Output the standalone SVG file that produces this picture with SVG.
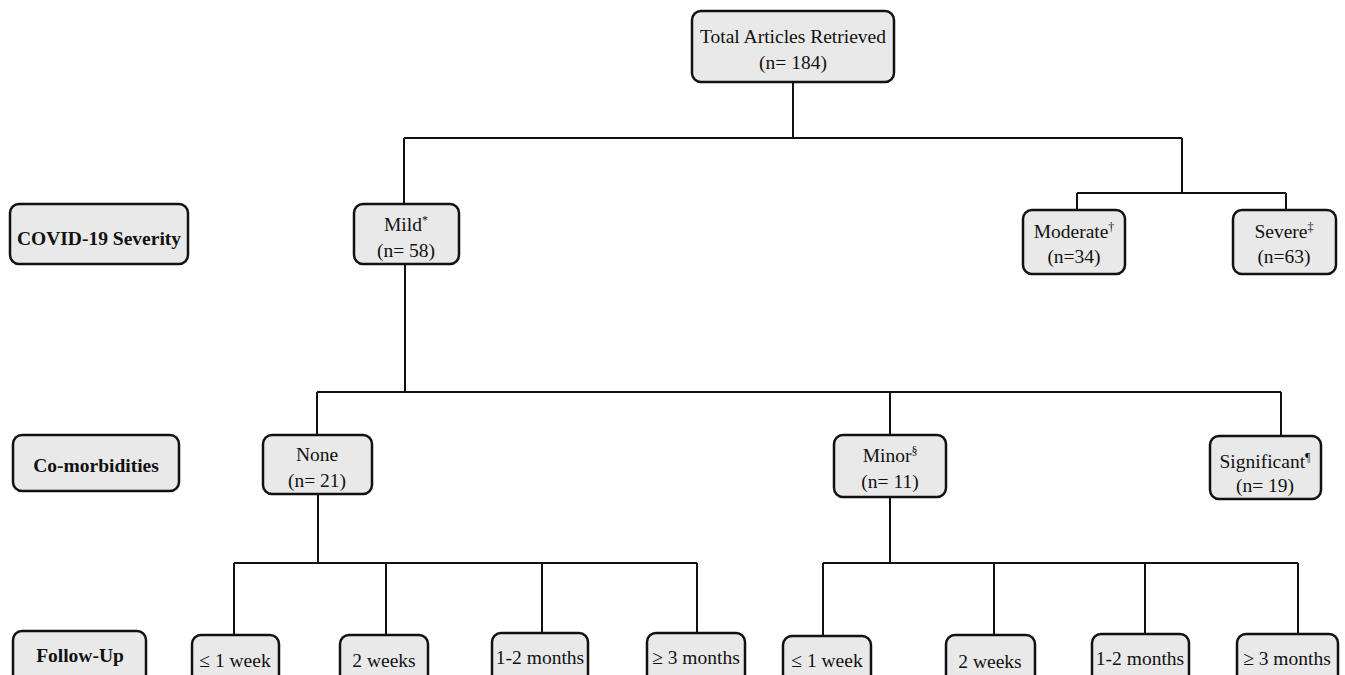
<svg xmlns="http://www.w3.org/2000/svg" width="1345" height="675" viewBox="0 0 1345 675">
<style>
.box{fill:#e9e9e9;stroke:#111;stroke-width:2.5}
.t{font-family:"Liberation Serif","Times New Roman",serif;font-size:19.5px;fill:#111;text-anchor:middle}
.b{font-weight:bold}
.sup{font-size:12px}
.c{fill:none;stroke:#111;stroke-width:2}
</style>
<rect width="1345" height="675" fill="#fff"/>
<g id="connectors">
<path class="c" d="M793 82V138M404 138H1182M404 138V204M1182 138V193M1077 193H1286M1077 193V210M1286 193V210"/>
<path class="c" d="M405 264V392M317 392H1281M317 392V435M890 392V435M1281 392V436"/>
<path class="c" d="M318 494V563M234 563H697M234 563V635M386 563V635M542 563V633M697 563V633"/>
<path class="c" d="M890 497V563M823 563H1298M823 563V636M994 563V635M1145 563V633M1298 563V633"/>
</g>
<g id="total"><rect class="box" x="692" y="11" width="202" height="71" rx="9"/><text class="t" x="793" y="43">Total Articles Retrieved</text><text class="t" x="793" y="69">(n= 184)</text></g>
<g id="lbl-severity"><rect class="box" x="10" y="204" width="178" height="60" rx="9"/><text class="t b" x="99" y="245">COVID-19 Severity</text></g>
<g id="mild"><rect class="box" x="354" y="204" width="105" height="60" rx="9"/><text class="t" x="406" y="231">Mild<tspan class="sup" dy="-7">*</tspan></text><text class="t" x="406" y="257">(n= 58)</text></g>
<g id="moderate"><rect class="box" x="1023" y="210" width="102" height="64" rx="9"/><text class="t" x="1074" y="238">Moderate<tspan class="sup" dy="-7">†</tspan></text><text class="t" x="1074" y="263">(n=34)</text></g>
<g id="severe"><rect class="box" x="1233" y="210" width="103" height="64" rx="9"/><text class="t" x="1284" y="238">Severe<tspan class="sup" dy="-7">‡</tspan></text><text class="t" x="1284" y="263">(n=63)</text></g>
<g id="lbl-comorb"><rect class="box" x="13" y="435" width="166" height="56" rx="9"/><text class="t b" x="96" y="472">Co-morbidities</text></g>
<g id="none"><rect class="box" x="263" y="435" width="109" height="59" rx="9"/><text class="t" x="317" y="461">None</text><text class="t" x="317" y="487">(n= 21)</text></g>
<g id="minor"><rect class="box" x="834" y="435" width="112" height="62" rx="9"/><text class="t" x="890" y="462">Minor<tspan class="sup" dy="-7">§</tspan></text><text class="t" x="890" y="488">(n= 11)</text></g>
<g id="significant"><rect class="box" x="1210" y="436" width="111" height="63" rx="9"/><text class="t" x="1265" y="468">Significant<tspan class="sup" dy="-7">¶</tspan></text><text class="t" x="1265" y="492">(n= 19)</text></g>
<g id="lbl-followup"><rect class="box" x="13" y="631" width="133" height="60" rx="9"/><text class="t b" x="80" y="662">Follow-Up</text></g>
<g id="fu1"><rect class="box" x="192" y="635" width="87" height="56" rx="9"/><text class="t" x="235" y="667">≤ 1 week</text></g>
<g id="fu2"><rect class="box" x="340" y="635" width="88" height="56" rx="9"/><text class="t" x="384" y="667">2 weeks</text></g>
<g id="fu3"><rect class="box" x="492" y="633" width="96" height="58" rx="9"/><text class="t" x="540" y="664">1-2 months</text></g>
<g id="fu4"><rect class="box" x="647" y="633" width="98" height="58" rx="9"/><text class="t" x="696" y="664">≥ 3 months</text></g>
<g id="fu5"><rect class="box" x="783" y="636" width="88" height="56" rx="9"/><text class="t" x="827" y="667">≤ 1 week</text></g>
<g id="fu6"><rect class="box" x="946" y="635" width="89" height="56" rx="9"/><text class="t" x="990" y="668">2 weeks</text></g>
<g id="fu7"><rect class="box" x="1092" y="634" width="97" height="58" rx="9"/><text class="t" x="1140" y="665">1-2 months</text></g>
<g id="fu8"><rect class="box" x="1237" y="634" width="101" height="58" rx="9"/><text class="t" x="1287" y="665">≥ 3 months</text></g>
</svg>
